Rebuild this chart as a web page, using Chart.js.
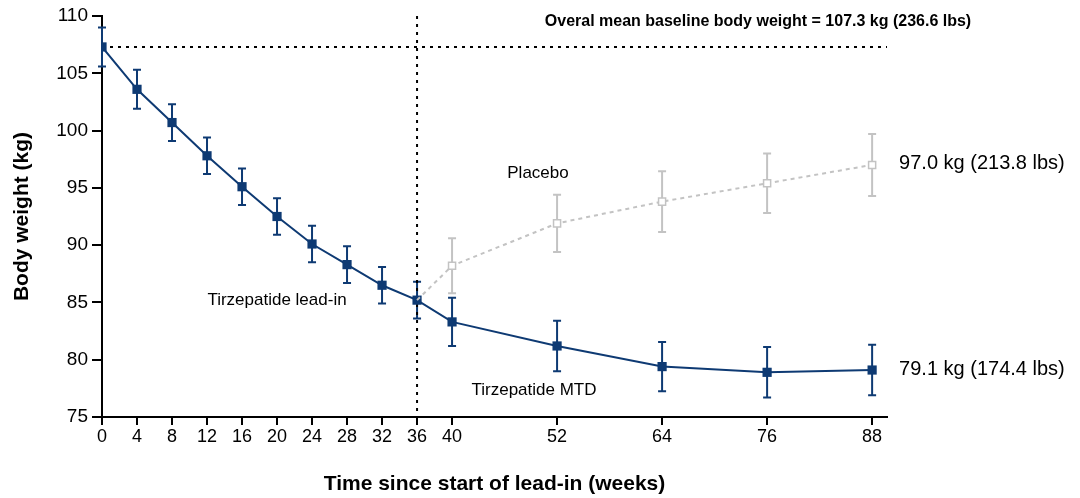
<!DOCTYPE html>
<html>
<head>
<meta charset="utf-8">
<script src="https://cdn.jsdelivr.net/npm/chart.js@4.4.1/dist/chart.umd.min.js"></script>
<style>
  html, body { margin: 0; padding: 0; background: #fff; }
  canvas { display: block; }
</style>
</head>
<body>
<canvas id="weightChart" width="1080" height="498"></canvas>
<script>
// data
const weeks = [0, 4, 8, 12, 16, 20, 24, 28, 32, 36, 40, 52, 64, 76, 88];
const tirzMean = [107.3, 103.6, 100.7, 97.8, 95.1, 92.5, 90.1, 88.3, 86.5, 85.2, 83.3, 81.2, 79.4, 78.9, 79.1];
const tirzErr = [1.7, 1.7, 1.6, 1.6, 1.6, 1.6, 1.6, 1.6, 1.6, 1.6, 2.1, 2.2, 2.15, 2.2, 2.2];
const placeboWeeks = [36, 40, 52, 64, 76, 88];
const placeboMean = [85.2, 88.2, 91.9, 93.8, 95.4, 97.0];
const placeboErr = [0, 2.4, 2.5, 2.65, 2.6, 2.7];
const xTicks = [0, 4, 8, 12, 16, 20, 24, 28, 32, 36, 40, 52, 64, 76, 88];
const yTicks = [75, 80, 85, 90, 95, 100, 105, 110];
const baseline = 107.3;
const leadInEnd = 36;

const BLUE = '#0e3a73';
const GREY = '#c3c3c3';
const FONT = 'Arial, "Liberation Sans", sans-serif';
const NARROW = '"Liberation Sans Narrow", "Arial Narrow", Arial, sans-serif';

// error bars, drawn under the markers
const errorBars = {
  id: 'errorBars',
  beforeDatasetsDraw(chart) {
    const { ctx, scales: { x, y } } = chart;
    chart.data.datasets.forEach((ds) => {
      if (!ds.errors) return;
      ctx.save();
      ctx.strokeStyle = ds.errColor;
      ctx.lineWidth = 2;
      ds.data.forEach((p, i) => {
        const e = ds.errors[i];
        if (!e) return;
        const px = x.getPixelForValue(p.x);
        const top = y.getPixelForValue(p.y + e);
        const bot = y.getPixelForValue(p.y - e);
        ctx.beginPath();
        ctx.moveTo(px, top); ctx.lineTo(px, bot);
        ctx.moveTo(px - 4, top); ctx.lineTo(px + 4, top);
        ctx.moveTo(px - 4, bot); ctx.lineTo(px + 4, bot);
        ctx.stroke();
      });
      ctx.restore();
    });
  }
};

// reference lines + text labels
const annotations = {
  id: 'annotations',
  beforeDatasetsDraw(chart) {
    const { ctx, scales: { x, y } } = chart;
    ctx.save();
    ctx.strokeStyle = '#000';
    ctx.lineWidth = 2;
    ctx.setLineDash([3, 5]);
    const by = y.getPixelForValue(baseline);
    ctx.beginPath();
    ctx.moveTo(x.getPixelForValue(0), by);
    ctx.lineTo(x.getPixelForValue(89.7), by);
    ctx.stroke();
    const vx = x.getPixelForValue(leadInEnd);
    ctx.beginPath();
    ctx.moveTo(vx, y.getPixelForValue(110));
    ctx.lineTo(vx, y.getPixelForValue(75));
    ctx.stroke();
    ctx.restore();
  },
  afterDatasetsDraw(chart) {
    const { ctx, scales: { x, y } } = chart;
    ctx.save();
    ctx.fillStyle = '#000';
    ctx.textBaseline = 'middle';
    ctx.textAlign = 'center';
    ctx.font = 'bold 16px ' + NARROW;
    ctx.fillText('Overal mean baseline body weight = 107.3 kg (236.6 lbs)', 758, 22);
    ctx.font = '17px ' + FONT;
    ctx.fillText('Placebo', 538, 173);
    ctx.fillText('Tirzepatide lead-in', 277, 300);
    ctx.fillText('Tirzepatide MTD', 534, 390);
    ctx.textAlign = 'left';
    ctx.font = '20px ' + FONT;
    const ex = x.getPixelForValue(88) + 27;
    ctx.fillText('97.0 kg (213.8 lbs)', ex, y.getPixelForValue(placeboMean[placeboMean.length - 1]) - 1);
    ctx.fillText('79.1 kg (174.4 lbs)', ex, y.getPixelForValue(tirzMean[tirzMean.length - 1]) - 1);
    ctx.restore();
  }
};

const ctx = document.getElementById('weightChart').getContext('2d');
new Chart(ctx, {
  type: 'line',
  data: {
    datasets: [
      {
        label: 'Placebo',
        data: placeboWeeks.map((w, i) => ({ x: w, y: placeboMean[i] })),
        errors: placeboErr,
        errColor: GREY,
        borderColor: GREY,
        borderWidth: 2,
        borderDash: [4, 4],
        pointStyle: 'rect',
        pointRadius: placeboWeeks.map((w) => (w === leadInEnd ? 0 : 5)),
        pointBackgroundColor: '#fff',
        pointBorderColor: GREY,
        pointBorderWidth: 1.5,
      },
      {
        label: 'Tirzepatide',
        data: weeks.map((w, i) => ({ x: w, y: tirzMean[i] })),
        errors: tirzErr,
        errColor: BLUE,
        borderColor: BLUE,
        borderWidth: 2,
        pointStyle: 'rect',
        pointRadius: 6.5,
        pointBackgroundColor: BLUE,
        pointBorderColor: BLUE,
        pointBorderWidth: 0,
      },
    ],
  },
  options: {
    responsive: false,
    animation: false,
    layout: { padding: { top: 16, right: 193, left: 0, bottom: 0 } },
    plugins: { legend: { display: false }, tooltip: { enabled: false } },
    scales: {
      x: {
        type: 'linear',
        min: 0,
        max: 89.7,
        afterBuildTicks: (s) => { s.ticks = xTicks.map((v) => ({ value: v })); },
        afterFit: (s) => { s.height = 81; },
        grid: { drawOnChartArea: false, color: '#000', lineWidth: 2, tickLength: 8 },
        border: { color: '#000', width: 2 },
        ticks: { color: '#000', font: { family: FONT, size: 18 }, maxRotation: 0, autoSkip: false, padding: 1 },
        title: {
          display: true,
          text: 'Time since start of lead-in (weeks)',
          color: '#000',
          font: { family: FONT, size: 21, weight: 'bold' },
          padding: { top: 0, bottom: 1 },
        },
      },
      y: {
        min: 75,
        max: 110,
        afterBuildTicks: (s) => { s.ticks = yTicks.map((v) => ({ value: v })); },
        afterFit: (s) => { s.width = 102; },
        grid: { drawOnChartArea: false, color: '#000', lineWidth: 2, tickLength: 10 },
        border: { color: '#000', width: 2 },
        ticks: { color: '#000', font: { family: FONT, size: 19 }, padding: 4 },
        title: {
          display: true,
          text: 'Body weight (kg)',
          color: '#000',
          font: { family: FONT, size: 21, weight: 'bold' },
          padding: { top: 10, bottom: 0 },
        },
      },
    },
  },
  plugins: [errorBars, annotations],
});
</script>
</body>
</html>
